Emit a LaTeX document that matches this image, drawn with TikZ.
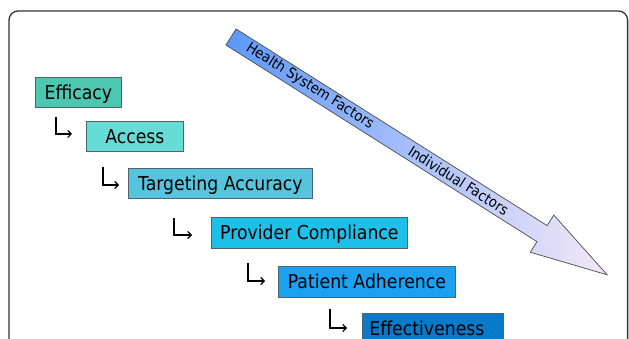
\documentclass[tikz,border=0pt]{standalone}
\usepackage{fontspec}
\setmainfont{DejaVu Sans}[FakeStretch=0.9]
\usetikzlibrary{arrows.meta}
\definecolor{cEff}{RGB}{76,200,176}
\definecolor{cAcc}{RGB}{102,220,214}
\definecolor{cTgt}{RGB}{86,196,220}
\definecolor{cPrv}{RGB}{28,192,232}
\definecolor{cPat}{RGB}{28,160,242}
\definecolor{cEfv}{RGB}{8,122,204}
\definecolor{boxborder}{RGB}{80,100,110}
\definecolor{arrowA}{RGB}{92,152,248}
\definecolor{arrowB}{RGB}{244,232,248}
\begin{document}
\begin{tikzpicture}[x=1pt,y=1pt,
  box/.style={draw=boxborder, line width=0.8pt, anchor=north west, minimum height=30.5pt,
    inner sep=0pt, text height=16pt, text depth=1.5pt, font=\fontsize{19.2}{23}\selectfont},
  elbow/.style={draw=black, line width=1.1pt, -{Straight Barb[length=3.5pt,width=7pt]}},
  diagtext/.style={rotate=-32.3, font=\fontsize{14.6}{16}\selectfont, inner sep=0pt}]
\useasboundingbox (0,0) rectangle (629,-339);
\clip (0,0) rectangle (629,-339);
\draw[line width=1.3pt, color=black!80, rounded corners=9pt] (9,-11) rectangle (627.6,-380);

\node[box, fill=cEff, minimum width=86pt] (eff) at (35,-77) {Efficacy};
\node[box, fill=cAcc, minimum width=97pt] (acc) at (86,-121) {Access};
\node[box, fill=cTgt, minimum width=184pt] (tgt) at (128,-168) {Targeting Accuracy};
\node[box, fill=cPrv, minimum width=196pt] (prv) at (211,-217) {Provider Compliance};
\node[box, fill=cPat, minimum width=177pt] (pat) at (278,-266) {Patient Adherence};
\node[box, fill=cEfv, minimum width=141pt, text width=127pt, inner xsep=7pt, align=left] (efv) at (362,-313) {Effectiveness};

\coordinate (e1s) at (56,-117);  \coordinate (e1e) at (72,-134);
\coordinate (e2s) at (103,-167); \coordinate (e2e) at (119,-185);
\coordinate (e3s) at (174,-218); \coordinate (e3e) at (192,-235);
\coordinate (e4s) at (248,-263); \coordinate (e4e) at (265,-281);
\coordinate (e5s) at (330,-309); \coordinate (e5e) at (347,-328);
\draw[elbow] (e1s) |- (e1e);
\draw[elbow] (e2s) |- (e2e);
\draw[elbow] (e3s) |- (e3e);
\draw[elbow] (e4s) |- (e4e);
\draw[elbow] (e5s) |- (e5e);

\begin{scope}[shift={(231,-37)}, rotate=-32.3]
\path[draw=black!70, line width=0.7pt, left color=arrowA, right color=arrowB]
  (0,9.5) -- (368,9.5) -- (368,22) -- (445,0) -- (368,-22) -- (368,-9.5) -- (0,-9.5) -- cycle;
\node[diagtext] (hsf) at (93,0.5) {Health System Factors};
\node[diagtext] (ifa) at (269,0.5) {Individual Factors};
\end{scope}
\end{tikzpicture}
\end{document}
